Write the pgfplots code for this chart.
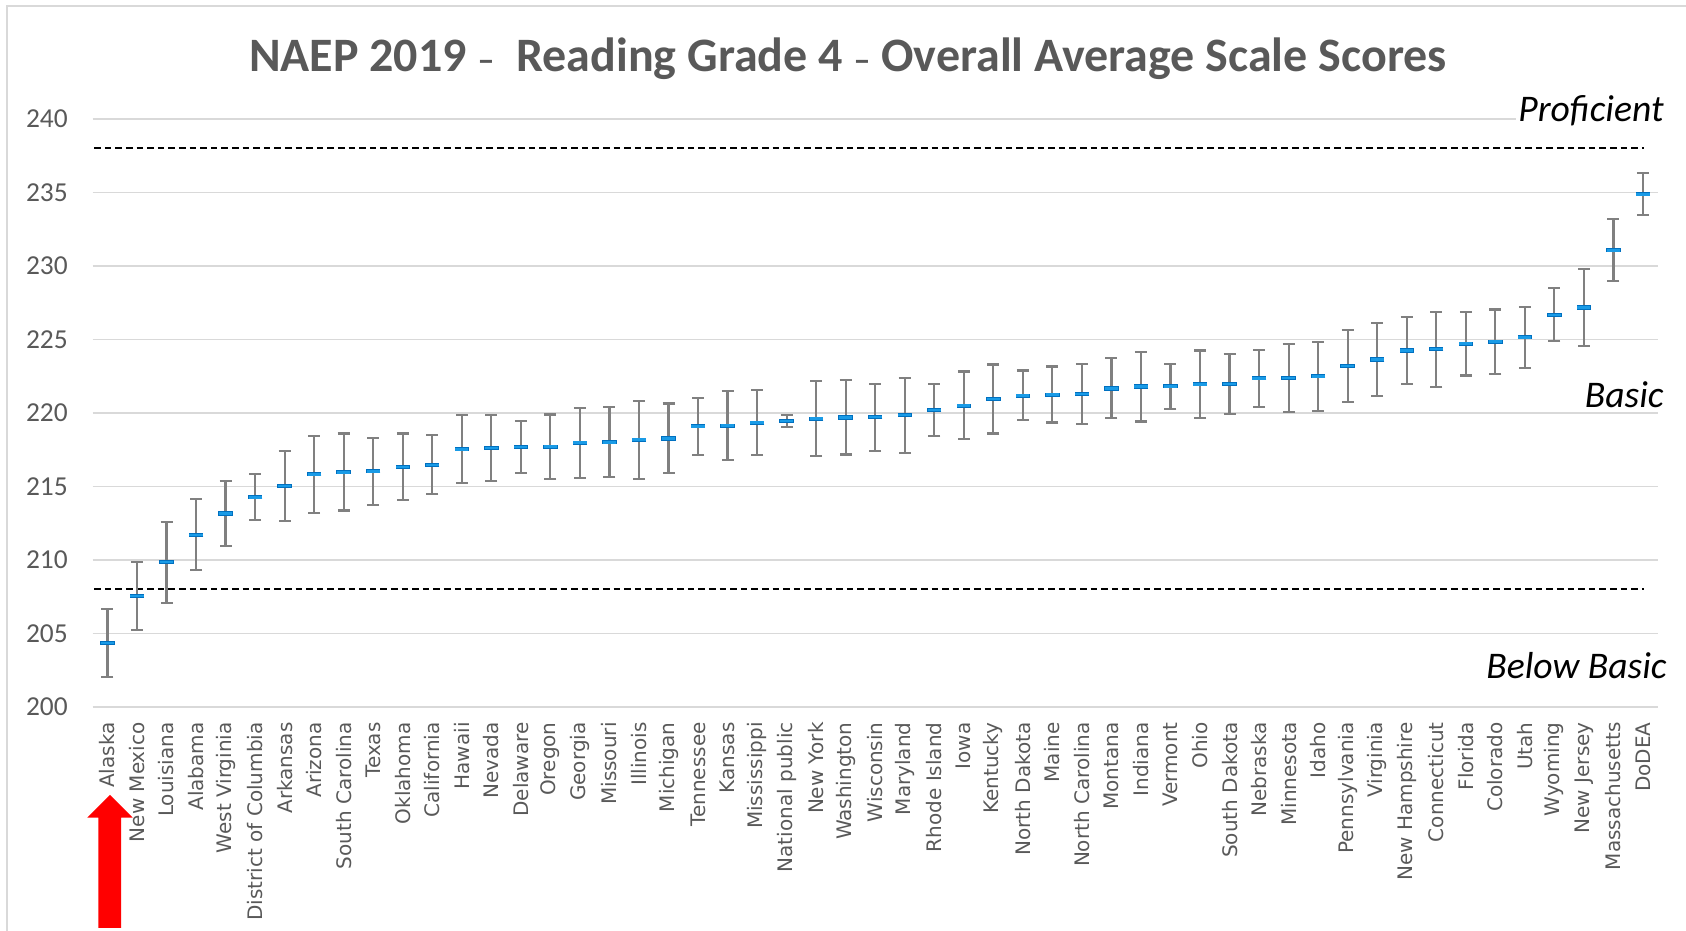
\documentclass[border=0pt]{standalone}
\usepackage{pgfplots}
\pgfplotsset{compat=1.18}
\usepackage{pgfplotstable}
\usepackage{fontspec}
\setmainfont{Carlito}
\newfontfamily\labelfont{DejaVu Sans}
\definecolor{txtgray}{HTML}{595959}
\definecolor{gridgray}{HTML}{D9D9D9}
\definecolor{errgray}{HTML}{808080}
\definecolor{markblue}{HTML}{1A9BE6}
\definecolor{markdark}{HTML}{0070C0}

\pgfplotstableread{
x y ep em
0 204.35 2.32 2.29
1 207.55 2.31 2.31
2 209.86 2.74 2.76
3 211.70 2.45 2.40
4 213.17 2.23 2.20
5 214.26 1.57 1.54
6 215.03 2.38 2.35
7 215.83 2.60 2.61
8 215.96 2.64 2.59
9 216.03 2.27 2.27
10 216.33 2.27 2.25
11 216.46 2.04 1.99
12 217.53 2.31 2.31
13 217.62 2.22 2.25
14 217.69 1.77 1.75
15 217.71 2.19 2.18
16 217.98 2.38 2.38
17 218.00 2.39 2.36
18 218.18 2.66 2.66
19 218.27 2.37 2.36
20 219.09 1.93 1.95
21 219.14 2.38 2.34
22 219.34 2.25 2.18
23 219.45 0.41 0.40
24 219.61 2.59 2.56
25 219.70 2.55 2.52
26 219.73 2.27 2.30
27 219.86 2.53 2.56
28 220.20 1.80 1.77
29 220.50 2.32 2.27
30 220.95 2.35 2.34
31 221.18 1.71 1.63
32 221.25 1.91 1.89
33 221.30 2.06 2.05
34 221.66 2.06 2.01
35 221.80 2.37 2.38
36 221.81 1.51 1.54
37 221.95 2.30 2.31
38 221.97 2.03 2.05
39 222.36 1.91 1.95
40 222.38 2.30 2.30
41 222.49 2.33 2.35
42 223.20 2.47 2.46
43 223.64 2.46 2.49
44 224.25 2.30 2.30
45 224.36 2.52 2.58
46 224.71 2.17 2.16
47 224.85 2.19 2.22
48 225.15 2.05 2.08
49 226.68 1.81 1.78
50 227.18 2.60 2.60
51 231.07 2.13 2.11
52 234.88 1.45 1.40
}\scores

\begin{document}
\begin{tikzpicture}
\useasboundingbox (0,0) rectangle (843pt,465.5pt);
\draw[gridgray, line width=1pt] (3.5pt,0) -- (3.5pt,462.5pt) -- (843pt,462.5pt);
\node[anchor=base, font=\fontsize{24}{28}\selectfont\bfseries, text=txtgray] at (424pt,429.65pt)
  {NAEP 2019 {\fontsize{17}{20}\selectfont --}\ \ Reading Grade 4 {\fontsize{17}{20}\selectfont --} Overall Average Scale Scores};
\begin{axis}[
  at={(46.35pt,112pt)}, anchor=south west,
  scale only axis, width=782.5pt, height=294pt,
  xmin=-0.5, xmax=52.5, ymin=200, ymax=240,
  clip=false,
  axis line style={draw=none},
  major tick length=0pt,
  ytick={200,205,...,240},
  ymajorgrids, grid style={gridgray, line width=0.8pt},
  /pgf/number format/assume math mode=true,
  yticklabel style={anchor=east, inner sep=0pt, xshift=-12.3pt,
    font=\fontsize{13.7}{15}\selectfont, text=txtgray},
  xtick={0,...,52},
  xticklabels={Alaska,New Mexico,Louisiana,Alabama,West Virginia,District of Columbia,Arkansas,Arizona,South Carolina,Texas,Oklahoma,California,Hawaii,Nevada,Delaware,Oregon,Georgia,Missouri,Illinois,Michigan,Tennessee,Kansas,Mississippi,National public,New York,Washington,Wisconsin,Maryland,Rhode Island,Iowa,Kentucky,North Dakota,Maine,North Carolina,Montana,Indiana,Vermont,Ohio,South Dakota,Nebraska,Minnesota,Idaho,Pennsylvania,Virginia,New Hampshire,Connecticut,Florida,Colorado,Utah,Wyoming,New Jersey,Massachusetts,DoDEA},
  xticklabel style={yshift=-7.5pt, rotate=90, anchor=east, inner sep=0pt,
    font=\labelfont\fontsize{10}{12}\selectfont, text=txtgray},
]
\addplot[black, line width=1pt, dash pattern=on 3.3pt off 2pt] coordinates {(-0.45,238) (52.05,238)};
\addplot[black, line width=1pt, dash pattern=on 3.3pt off 2pt] coordinates {(-0.45,208) (52.05,208)};
\addplot[draw=none, mark=none,
  error bars/.cd, y dir=both, y explicit,
  error bar style={errgray, line width=1.1pt},
  error mark options={rotate=90, errgray, line width=1.1pt, mark size=3pt}]
  table[x=x, y=y, y error plus=ep, y error minus=em] {\scores};
\addplot[only marks, mark=-, mark size=3.6pt, mark options={markdark, line width=2.1pt}]
  table[x=x, y=y] {\scores};
\addplot[only marks, mark=-, mark size=3.3pt, mark options={markblue, line width=1.3pt}]
  table[x=x, y=y] {\scores};
\end{axis}
\node[anchor=base east, fill=white, inner sep=1pt, font=\fontsize{18.8}{20}\selectfont\itshape] at (833pt,404.65pt) {Proficient};
\node[anchor=base east, inner sep=0pt, font=\fontsize{18.8}{20}\selectfont\itshape] at (832pt,261.75pt) {Basic};
\node[anchor=base east, inner sep=0pt, font=\fontsize{18.8}{20}\selectfont\itshape] at (833.5pt,126.25pt) {Below Basic};
\fill[red] (55pt,68pt) -- (66.35pt,56.65pt) -- (60.5pt,56.65pt) -- (60.5pt,1.5pt) -- (49.15pt,1.5pt) -- (49.15pt,56.65pt) -- (43.65pt,56.65pt) -- cycle;
\end{tikzpicture}
\end{document}
